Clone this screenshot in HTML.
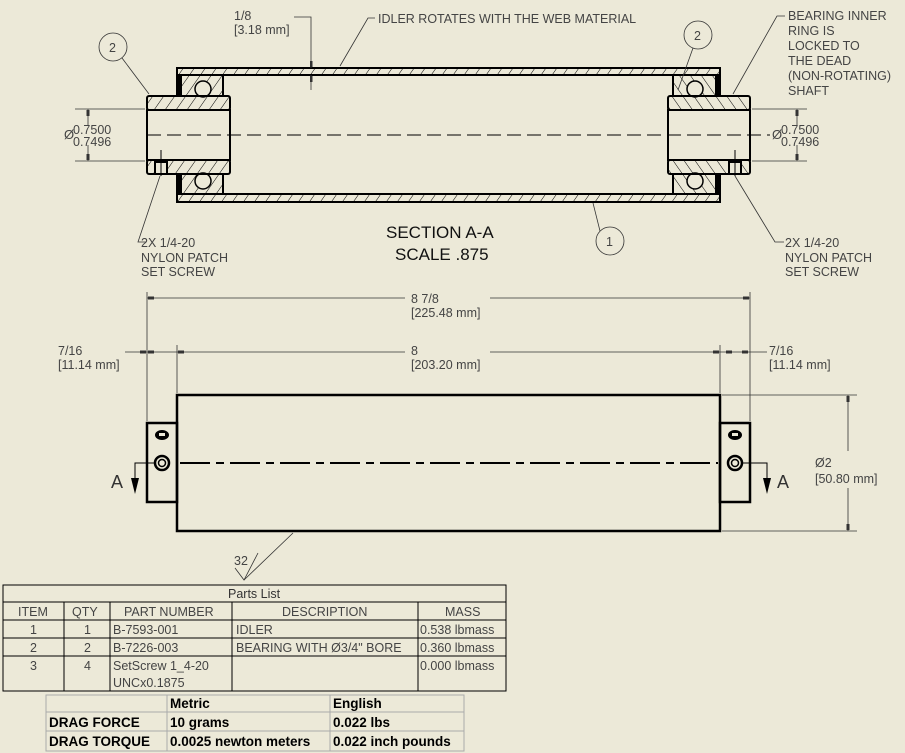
<!DOCTYPE html>
<html><head><meta charset="utf-8"><style>
html,body{margin:0;padding:0;background:#ECE9D8;}
svg{display:block}
text{font-family:"Liberation Sans",sans-serif;fill:#444;}
.t{stroke:#000;stroke-width:2.5;fill:none}
.th{stroke:#000;stroke-width:1;fill:none}
.d{stroke:#333;stroke-width:0.8;fill:none}
</style></head><body>
<svg width="905" height="753" viewBox="0 0 905 753" xmlns="http://www.w3.org/2000/svg" font-size="12.5">
<defs>
<pattern id="h1" width="9" height="9" patternUnits="userSpaceOnUse" patternTransform="rotate(35)"><line x1="0" y1="0" x2="0" y2="9" stroke="#000" stroke-width="1"/></pattern>
<pattern id="h2" width="9" height="9" patternUnits="userSpaceOnUse" patternTransform="rotate(-35)"><line x1="0" y1="0" x2="0" y2="9" stroke="#000" stroke-width="1"/></pattern>
</defs>
<rect width="905" height="753" fill="#ECE9D8"/>

<rect x="177" y="68" width="543" height="7" fill="url(#h1)" stroke="#000" stroke-width="2"/>
<rect x="177" y="194" width="543" height="8" fill="url(#h1)" stroke="#000" stroke-width="2"/>
<rect x="177" y="75" width="46" height="21" fill="url(#h1)" stroke="#000" stroke-width="2"/>
<rect x="177" y="174" width="46" height="20" fill="url(#h1)" stroke="#000" stroke-width="2"/>
<rect x="177" y="75" width="5" height="21" fill="#000"/><rect x="177" y="174" width="5" height="20" fill="#000"/>
<circle cx="203" cy="89" r="8" fill="#ECE9D8" stroke="#000" stroke-width="1.5"/>
<circle cx="203" cy="181" r="8" fill="#ECE9D8" stroke="#000" stroke-width="1.5"/>
<rect x="147" y="96" width="83" height="14" fill="url(#h1)" stroke="#000" stroke-width="2" rx="2"/>
<rect x="147" y="160" width="83" height="14" fill="url(#h1)" stroke="#000" stroke-width="2" rx="2"/>
<rect x="147" y="110" width="83" height="50" fill="#ECE9D8" stroke="#000" stroke-width="2"/>
<rect x="155" y="162" width="12" height="12" fill="#ECE9D8" stroke="#000" stroke-width="2"/>
<line x1="161" y1="150" x2="161" y2="176" class="th"/>
<rect x="673" y="75" width="47" height="21" fill="url(#h2)" stroke="#000" stroke-width="2"/>
<rect x="673" y="174" width="47" height="20" fill="url(#h2)" stroke="#000" stroke-width="2"/>
<rect x="715" y="75" width="5" height="21" fill="#000"/><rect x="715" y="174" width="5" height="20" fill="#000"/>
<circle cx="695" cy="89" r="8" fill="#ECE9D8" stroke="#000" stroke-width="1.5"/>
<circle cx="695" cy="181" r="8" fill="#ECE9D8" stroke="#000" stroke-width="1.5"/>
<rect x="668" y="96" width="82" height="14" fill="url(#h2)" stroke="#000" stroke-width="2" rx="2"/>
<rect x="668" y="160" width="82" height="14" fill="url(#h2)" stroke="#000" stroke-width="2" rx="2"/>
<rect x="668" y="110" width="82" height="50" fill="#ECE9D8" stroke="#000" stroke-width="2"/>
<rect x="729" y="162" width="12" height="12" fill="#ECE9D8" stroke="#000" stroke-width="2"/>
<line x1="735" y1="150" x2="735" y2="176" class="th"/>
<line x1="147" y1="135" x2="770" y2="135" stroke="#000" stroke-width="1" stroke-dasharray="14,6"/>

<line x1="75" y1="109" x2="145" y2="109" class="d"/><line x1="75" y1="161" x2="145" y2="161" class="d"/>
<line x1="88" y1="109" x2="88" y2="125" class="d"/><line x1="88" y1="145" x2="88" y2="161" class="d"/>
<rect x="86.5" y="110" width="3" height="6" fill="#333"/><rect x="86.5" y="154" width="3" height="6" fill="#333"/>
<text x="64" y="139" style="font-size:13px">Ø</text><text x="73" y="134">0.7500</text><text x="73" y="146">0.7496</text>
<line x1="752" y1="109" x2="807" y2="109" class="d"/><line x1="752" y1="161" x2="807" y2="161" class="d"/>
<line x1="797" y1="109" x2="797" y2="125" class="d"/><line x1="797" y1="145" x2="797" y2="161" class="d"/>
<rect x="795.5" y="110" width="3" height="6" fill="#333"/><rect x="795.5" y="154" width="3" height="6" fill="#333"/>
<text x="772" y="139" style="font-size:13px">Ø</text><text x="781" y="134">0.7500</text><text x="781" y="146">0.7496</text>

<text x="234" y="20">1/8</text><text x="234" y="34">[3.18 mm]</text>
<polyline points="294,17 311,17 311,68" class="d"/><line x1="311" y1="75" x2="311" y2="90" class="d"/>
<rect x="310" y="61" width="2.5" height="6" fill="#333"/><rect x="310" y="76" width="2.5" height="6" fill="#333"/>
<text x="378" y="23">IDLER ROTATES WITH THE WEB MATERIAL</text>
<polyline points="375,18 368,18 340,66" class="d"/>
<text x="788" y="20">BEARING INNER</text><text x="788" y="35">RING IS</text><text x="788" y="50">LOCKED TO</text><text x="788" y="65">THE DEAD</text><text x="788" y="80">(NON-ROTATING)</text><text x="788" y="95">SHAFT</text>
<polyline points="785,16 777,16 733,94" class="d"/>
<circle cx="113" cy="47" r="14" class="d" stroke-width="1"/><text x="109" y="52">2</text>
<line x1="122" y1="58" x2="149" y2="94" class="d"/>
<circle cx="698" cy="35" r="14" class="d" stroke-width="1"/><text x="694" y="40">2</text>
<line x1="693" y1="48" x2="678" y2="90" class="d"/>
<circle cx="610" cy="241" r="14" class="d" stroke-width="1"/><text x="606" y="246">1</text>
<line x1="600" y1="231" x2="593" y2="203" class="d"/>
<polyline points="160,176 138,242 146,242" class="d"/>
<text x="141" y="247">2X 1/4-20</text><text x="141" y="262">NYLON PATCH</text><text x="141" y="276">SET SCREW</text>
<polyline points="735,176 775,242 784,242" class="d"/>
<text x="785" y="247">2X 1/4-20</text><text x="785" y="262">NYLON PATCH</text><text x="785" y="276">SET SCREW</text>
<text x="386" y="238" style="font-size:17px;fill:#111">SECTION A-A</text>
<text x="395" y="260" style="font-size:17px;fill:#111">SCALE .875</text>

<rect x="177" y="395" width="543" height="136" class="t" stroke-width="2"/>
<rect x="147" y="423" width="30" height="79" class="t" stroke-width="2"/>
<rect x="720" y="423" width="30" height="79" class="t" stroke-width="2"/>
<line x1="180" y1="463" x2="718" y2="463" stroke="#000" stroke-width="2" stroke-dasharray="30,6,8,6"/>
<ellipse cx="162" cy="435" rx="7" ry="5" fill="#000"/><rect x="159" y="433" width="6" height="3" fill="#ECE9D8"/>
<circle cx="162" cy="463" r="7" fill="none" stroke="#000" stroke-width="2.5"/><circle cx="162" cy="463" r="3.5" fill="none" stroke="#000" stroke-width="1.5"/>
<ellipse cx="735" cy="435" rx="7" ry="5" fill="#000"/><rect x="732" y="433" width="6" height="3" fill="#ECE9D8"/>
<circle cx="735" cy="463" r="7" fill="none" stroke="#000" stroke-width="2.5"/><circle cx="735" cy="463" r="3.5" fill="none" stroke="#000" stroke-width="1.5"/>
<polyline points="155,463 135,463 135,488" class="th" stroke-width="1.5"/><polygon points="131,478 139,478 135,494" fill="#000"/>
<text x="111" y="488" style="font-size:18px;fill:#333">A</text>
<polyline points="742,463 767,463 767,488" class="th" stroke-width="1.5"/><polygon points="763,478 771,478 767,494" fill="#000"/>
<text x="777" y="488" style="font-size:18px;fill:#333">A</text>
<line x1="147" y1="292" x2="147" y2="421" class="d"/><line x1="750" y1="292" x2="750" y2="421" class="d"/>
<line x1="177" y1="345" x2="177" y2="393" class="d"/><line x1="720" y1="345" x2="720" y2="393" class="d"/>
<line x1="147" y1="298" x2="405" y2="298" class="d"/><line x1="490" y1="298" x2="750" y2="298" class="d"/>
<rect x="148" y="296.5" width="6" height="3" fill="#333"/><rect x="743" y="296.5" width="6" height="3" fill="#333"/>
<text x="411" y="303">8 7/8</text><text x="411" y="317">[225.48 mm]</text>
<line x1="177" y1="352" x2="405" y2="352" class="d"/><line x1="490" y1="352" x2="720" y2="352" class="d"/>
<rect x="178" y="350.5" width="6" height="3" fill="#333"/><rect x="713" y="350.5" width="6" height="3" fill="#333"/>
<text x="411" y="355">8</text><text x="411" y="369">[203.20 mm]</text>
<line x1="125" y1="352" x2="177" y2="352" class="d"/><rect x="140" y="350.5" width="6" height="3" fill="#333"/><rect x="148" y="350.5" width="6" height="3" fill="#333"/>
<text x="58" y="355">7/16</text><text x="58" y="369">[11.14 mm]</text>
<line x1="720" y1="352" x2="767" y2="352" class="d"/><rect x="726" y="350.5" width="6" height="3" fill="#333"/><rect x="742" y="350.5" width="6" height="3" fill="#333"/>
<text x="769" y="355">7/16</text><text x="769" y="369">[11.14 mm]</text>
<line x1="722" y1="395" x2="857" y2="395" class="d"/><line x1="722" y1="531" x2="857" y2="531" class="d"/>
<line x1="848" y1="395" x2="848" y2="451" class="d"/><line x1="848" y1="488" x2="848" y2="531" class="d"/>
<rect x="846.5" y="396" width="3" height="6" fill="#333"/><rect x="846.5" y="524" width="3" height="6" fill="#333"/>
<text x="815" y="467">Ø2</text><text x="815" y="483">[50.80 mm]</text>
<text x="234" y="565">32</text>
<polyline points="235,568 244,580 258,553" class="d"/><line x1="244" y1="580" x2="293" y2="533" class="d"/>

<g stroke="#000" stroke-width="1" fill="none">
<rect x="3" y="585" width="503" height="106"/>
<line x1="3" y1="602" x2="506" y2="602"/><line x1="3" y1="620" x2="506" y2="620"/><line x1="3" y1="638" x2="506" y2="638"/><line x1="3" y1="656" x2="506" y2="656"/>
<line x1="64" y1="602" x2="64" y2="691"/><line x1="110" y1="602" x2="110" y2="691"/><line x1="232" y1="602" x2="232" y2="691"/><line x1="418" y1="602" x2="418" y2="691"/>
</g>
<g style="fill:#111">
<text x="228" y="598" style="fill:#333">Parts List</text>
<text x="18" y="616">ITEM</text><text x="72" y="616">QTY</text><text x="124" y="616">PART NUMBER</text><text x="282" y="616">DESCRIPTION</text><text x="445" y="616">MASS</text>
<text x="30" y="634">1</text><text x="84" y="634">1</text><text x="113" y="634">B-7593-001</text><text x="236" y="634">IDLER</text><text x="420" y="634">0.538 lbmass</text>
<text x="30" y="652">2</text><text x="84" y="652">2</text><text x="113" y="652">B-7226-003</text><text x="236" y="652">BEARING WITH Ø3/4" BORE</text><text x="420" y="652">0.360 lbmass</text>
<text x="30" y="670">3</text><text x="84" y="670">4</text><text x="113" y="670">SetScrew 1_4-20</text><text x="113" y="687">UNCx0.1875</text><text x="420" y="670">0.000 lbmass</text>
</g>
<g stroke="#aaa" stroke-width="1" fill="none">
<rect x="46" y="695" width="418" height="56"/>
<line x1="46" y1="712" x2="464" y2="712"/><line x1="46" y1="731" x2="464" y2="731"/>
<line x1="167" y1="695" x2="167" y2="751"/><line x1="330" y1="695" x2="330" y2="751"/>
</g>
<g style="font-size:13.5px;font-weight:bold;fill:#000">
<text x="170" y="708" style="fill:#000">Metric</text><text x="333" y="708" style="fill:#000">English</text>
<text x="49" y="727" style="fill:#000">DRAG FORCE</text><text x="170" y="727" style="fill:#000">10 grams</text><text x="333" y="727" style="fill:#000">0.022 lbs</text>
<text x="49" y="746" style="fill:#000">DRAG TORQUE</text><text x="170" y="746" style="fill:#000">0.0025 newton meters</text><text x="333" y="746" style="fill:#000">0.022 inch pounds</text>
</g>
</svg>
</body></html>
